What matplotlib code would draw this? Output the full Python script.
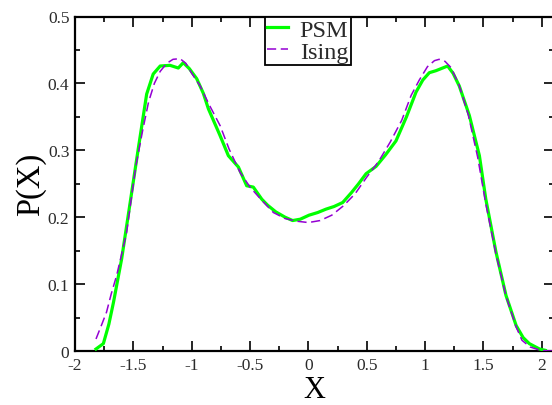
import matplotlib
matplotlib.use("Agg")
import matplotlib.pyplot as plt
from matplotlib.ticker import MultipleLocator

# PSM curve
psm_x = [-1.82, -1.757, -1.71, -1.67, -1.60, -1.529, -1.46, -1.386, -1.33, -1.27,
         -1.186, -1.115, -1.072, -1.02, -0.957, -0.90, -0.857, -0.757, -0.686, -0.60,
         -0.529, -0.472, -0.40, -0.35, -0.28, -0.20, -0.135, -0.07, 0.005, 0.08,
         0.15, 0.22, 0.294, 0.37, 0.43, 0.494, 0.58, 0.66, 0.75, 0.84,
         0.922, 0.98, 1.036, 1.093, 1.15, 1.193, 1.24, 1.293, 1.379, 1.465,
         1.52, 1.607, 1.693, 1.78, 1.84, 1.893, 1.98, 2.03]
psm_y = [0.003, 0.011, 0.04, 0.073, 0.138, 0.22, 0.30, 0.384, 0.414, 0.426,
         0.427, 0.423, 0.431, 0.422, 0.407, 0.385, 0.362, 0.322, 0.292, 0.275,
         0.247, 0.245, 0.227, 0.218, 0.208, 0.200, 0.195, 0.197, 0.203, 0.207,
         0.212, 0.216, 0.222, 0.237, 0.25, 0.265, 0.276, 0.293, 0.314, 0.35,
         0.387, 0.405, 0.416, 0.419, 0.423, 0.426, 0.415, 0.396, 0.352, 0.292,
         0.227, 0.148, 0.083, 0.038, 0.02, 0.011, 0.003, 0.001]

# Ising curve
ising_x = [-1.82, -1.77, -1.73, -1.69, -1.643, -1.60, -1.557, -1.52, -1.48, -1.42,
           -1.37, -1.32, -1.27, -1.214, -1.16, -1.10, -1.05, -1.00, -0.93, -0.85,
           -0.757, -0.68, -0.586, -0.50, -0.414, -0.30, -0.20, -0.10, 0.00, 0.10,
           0.20, 0.30, 0.40, 0.50, 0.60, 0.70, 0.80, 0.88, 0.95, 1.02,
           1.08, 1.12, 1.17, 1.22, 1.29, 1.37, 1.45, 1.52, 1.607, 1.693,
           1.78, 1.83, 1.90, 1.97, 2.05, 2.1]
ising_y = [0.018, 0.040, 0.058, 0.085, 0.113, 0.145, 0.178, 0.225, 0.275, 0.33,
           0.372, 0.400, 0.418, 0.430, 0.436, 0.437, 0.430, 0.415, 0.397, 0.368,
           0.337, 0.302, 0.267, 0.245, 0.228, 0.207, 0.198, 0.194, 0.192, 0.195,
           0.203, 0.217, 0.235, 0.26, 0.283, 0.312, 0.345, 0.382, 0.405, 0.425,
           0.434, 0.436, 0.433, 0.424, 0.398, 0.353, 0.29, 0.220, 0.145, 0.082,
           0.036, 0.016, 0.006, 0.002, 0.0, 0.0]

plt.rcParams["font.family"] = ["Liberation Serif", "DejaVu Serif"]

fig = plt.figure(figsize=(5.52, 4.06), dpi=100)
ax = fig.add_axes([75 / 552, 1 - 352 / 406, 478.5 / 552, 334.5 / 406])

ax.plot(psm_x, psm_y, color="#00ff00", lw=2.3, label="PSM", zorder=3)
ax.plot(ising_x, ising_y, color="#9400d3", lw=1.1, dashes=(6, 3), label="Ising", zorder=4)

ax.set_xlim(-2, 2.1)
ax.set_ylim(0, 0.5)
ax.xaxis.set_minor_locator(MultipleLocator(0.25))
ax.yaxis.set_minor_locator(MultipleLocator(0.05))
ax.set_xticks([-2, -1.5, -1, -0.5, 0, 0.5, 1, 1.5, 2])
ax.set_xticklabels(["-2", "-1.5", "-1", "-0.5", "0", "0.5", "1", "1.5", "2"])
ax.set_yticks([0, 0.1, 0.2, 0.3, 0.4, 0.5])
ax.set_yticklabels(["0", "0.1", "0.2", "0.3", "0.4", "0.5"])
ax.tick_params(which="both", direction="in", top=True, right=True, width=1.2, colors="black")
ax.tick_params(which="major", length=7, pad=4, labelsize=12.5, labelcolor="#2a2a2a")
ax.tick_params(which="minor", length=3.5)
for s in ax.spines.values():
    s.set_linewidth(1.6)
ax.spines["right"].set_visible(False)

ax.set_xlabel("X", fontsize=22, labelpad=2)
ax.set_ylabel("P(X)", fontsize=23.5, labelpad=1)

leg = ax.legend(loc="upper left", bbox_to_anchor=(264.5 / 552, 1 - 17.5 / 406),
                bbox_transform=fig.transFigure, fontsize=17.5, frameon=True,
                fancybox=False, framealpha=1, edgecolor="black",
                handlelength=0.85, handletextpad=0.5, borderpad=0.1,
                labelspacing=0.0, borderaxespad=0)
leg.get_frame().set_linewidth(1.3)
for t in leg.get_texts():
    t.set_color("#2a2a2a")

fig.savefig("out.png", dpi=100)
